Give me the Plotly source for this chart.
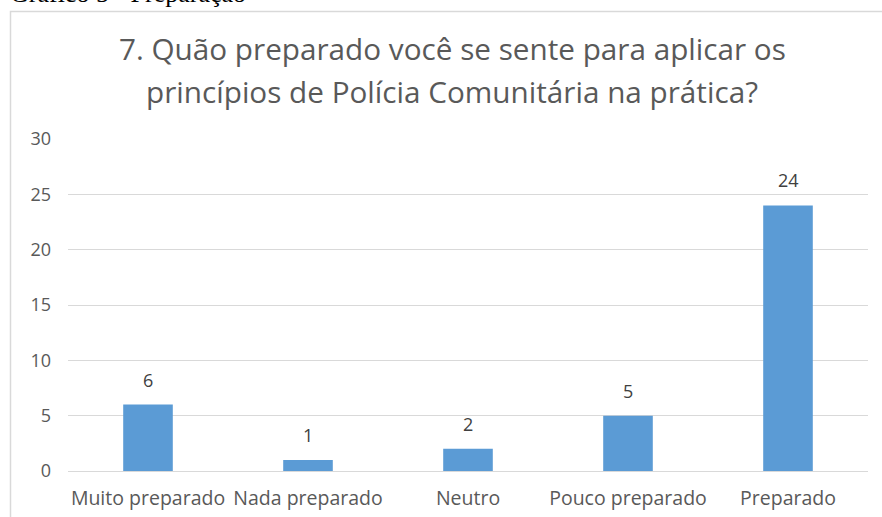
import plotly.graph_objects as go

categories = ["Muito preparado", "Nada preparado", "Neutro", "Pouco preparado", "Preparado"]
values = [6, 1, 2, 5, 24]
y_ticks = [0, 5, 10, 15, 20, 25, 30]
title_lines = ["7. Quão preparado você se sente para aplicar os",
               "princípios de Polícia Comunitária na prática?"]
caption = "Gráfico 5 - Preparação"

W, H = 882, 517
L, R, T, B = 68, 14, 139, 46
pw, ph = W - L - R, H - T - B

def px_x(x):  # window pixel -> paper
    return (x - L) / pw

def px_y(y):
    return (H - B - y) / ph

SANS = "Open Sans, Noto Sans, sans-serif"

fig = go.Figure()
fig.add_trace(go.Bar(
    x=categories, y=values, width=0.31,
    marker=dict(color="#5b9bd5", line=dict(width=0)),
    hoverinfo="x+y",
))

annotations = []
for c, v in zip(categories, values):
    annotations.append(dict(
        x=c, y=v, xref="x", yref="y", text=str(v), showarrow=False,
        xanchor="center", yanchor="bottom", yshift=11,
        font=dict(family=SANS, size=18, color="#404040"),
    ))
for i, line in enumerate(title_lines):
    annotations.append(dict(
        text=line, xref="paper", yref="paper", x=px_x(452), y=px_y(49 + i * 42),
        xanchor="center", yanchor="middle", showarrow=False,
        font=dict(family=SANS, size=29.7, color="#595959"),
    ))
annotations.append(dict(
    text=caption, xref="paper", yref="paper", x=px_x(8), y=px_y(10),
    xanchor="left", yanchor="bottom", showarrow=False,
    font=dict(family="Liberation Serif, Times New Roman, serif", size=26, color="#000000"),
))

fig.update_layout(
    width=W, height=H, autosize=False,
    margin=dict(l=L, r=R, t=T, b=B, pad=0, autoexpand=False),
    paper_bgcolor="white", plot_bgcolor="white",
    showlegend=False,
    annotations=annotations,
    shapes=[dict(type="rect", xref="paper", yref="paper",
                 x0=px_x(10.5), x1=px_x(W + 30), y0=px_y(H + 30), y1=px_y(11.5),
                 line=dict(color="#d9d9d9", width=1.5), fillcolor="rgba(0,0,0,0)", layer="below")],
    xaxis=dict(showgrid=False, showline=False, ticks="", automargin=False,
               tickfont=dict(family=SANS, size=19.5, color="#595959"),
               ticklabelstandoff=13),
    yaxis=dict(range=[0, 30], tickvals=y_ticks, showgrid=True, gridcolor="#d9d9d9", gridwidth=1,
               zeroline=True, zerolinecolor="#d9d9d9", zerolinewidth=1, showline=False, ticks="",
               automargin=False,
               tickfont=dict(family=SANS, size=18, color="#595959"),
               ticklabelstandoff=16),
    bargap=0.69,
)

fig.write_html("out.html", config={"displayModeBar": False},
               post_script="document.body.style.margin='0px';")
